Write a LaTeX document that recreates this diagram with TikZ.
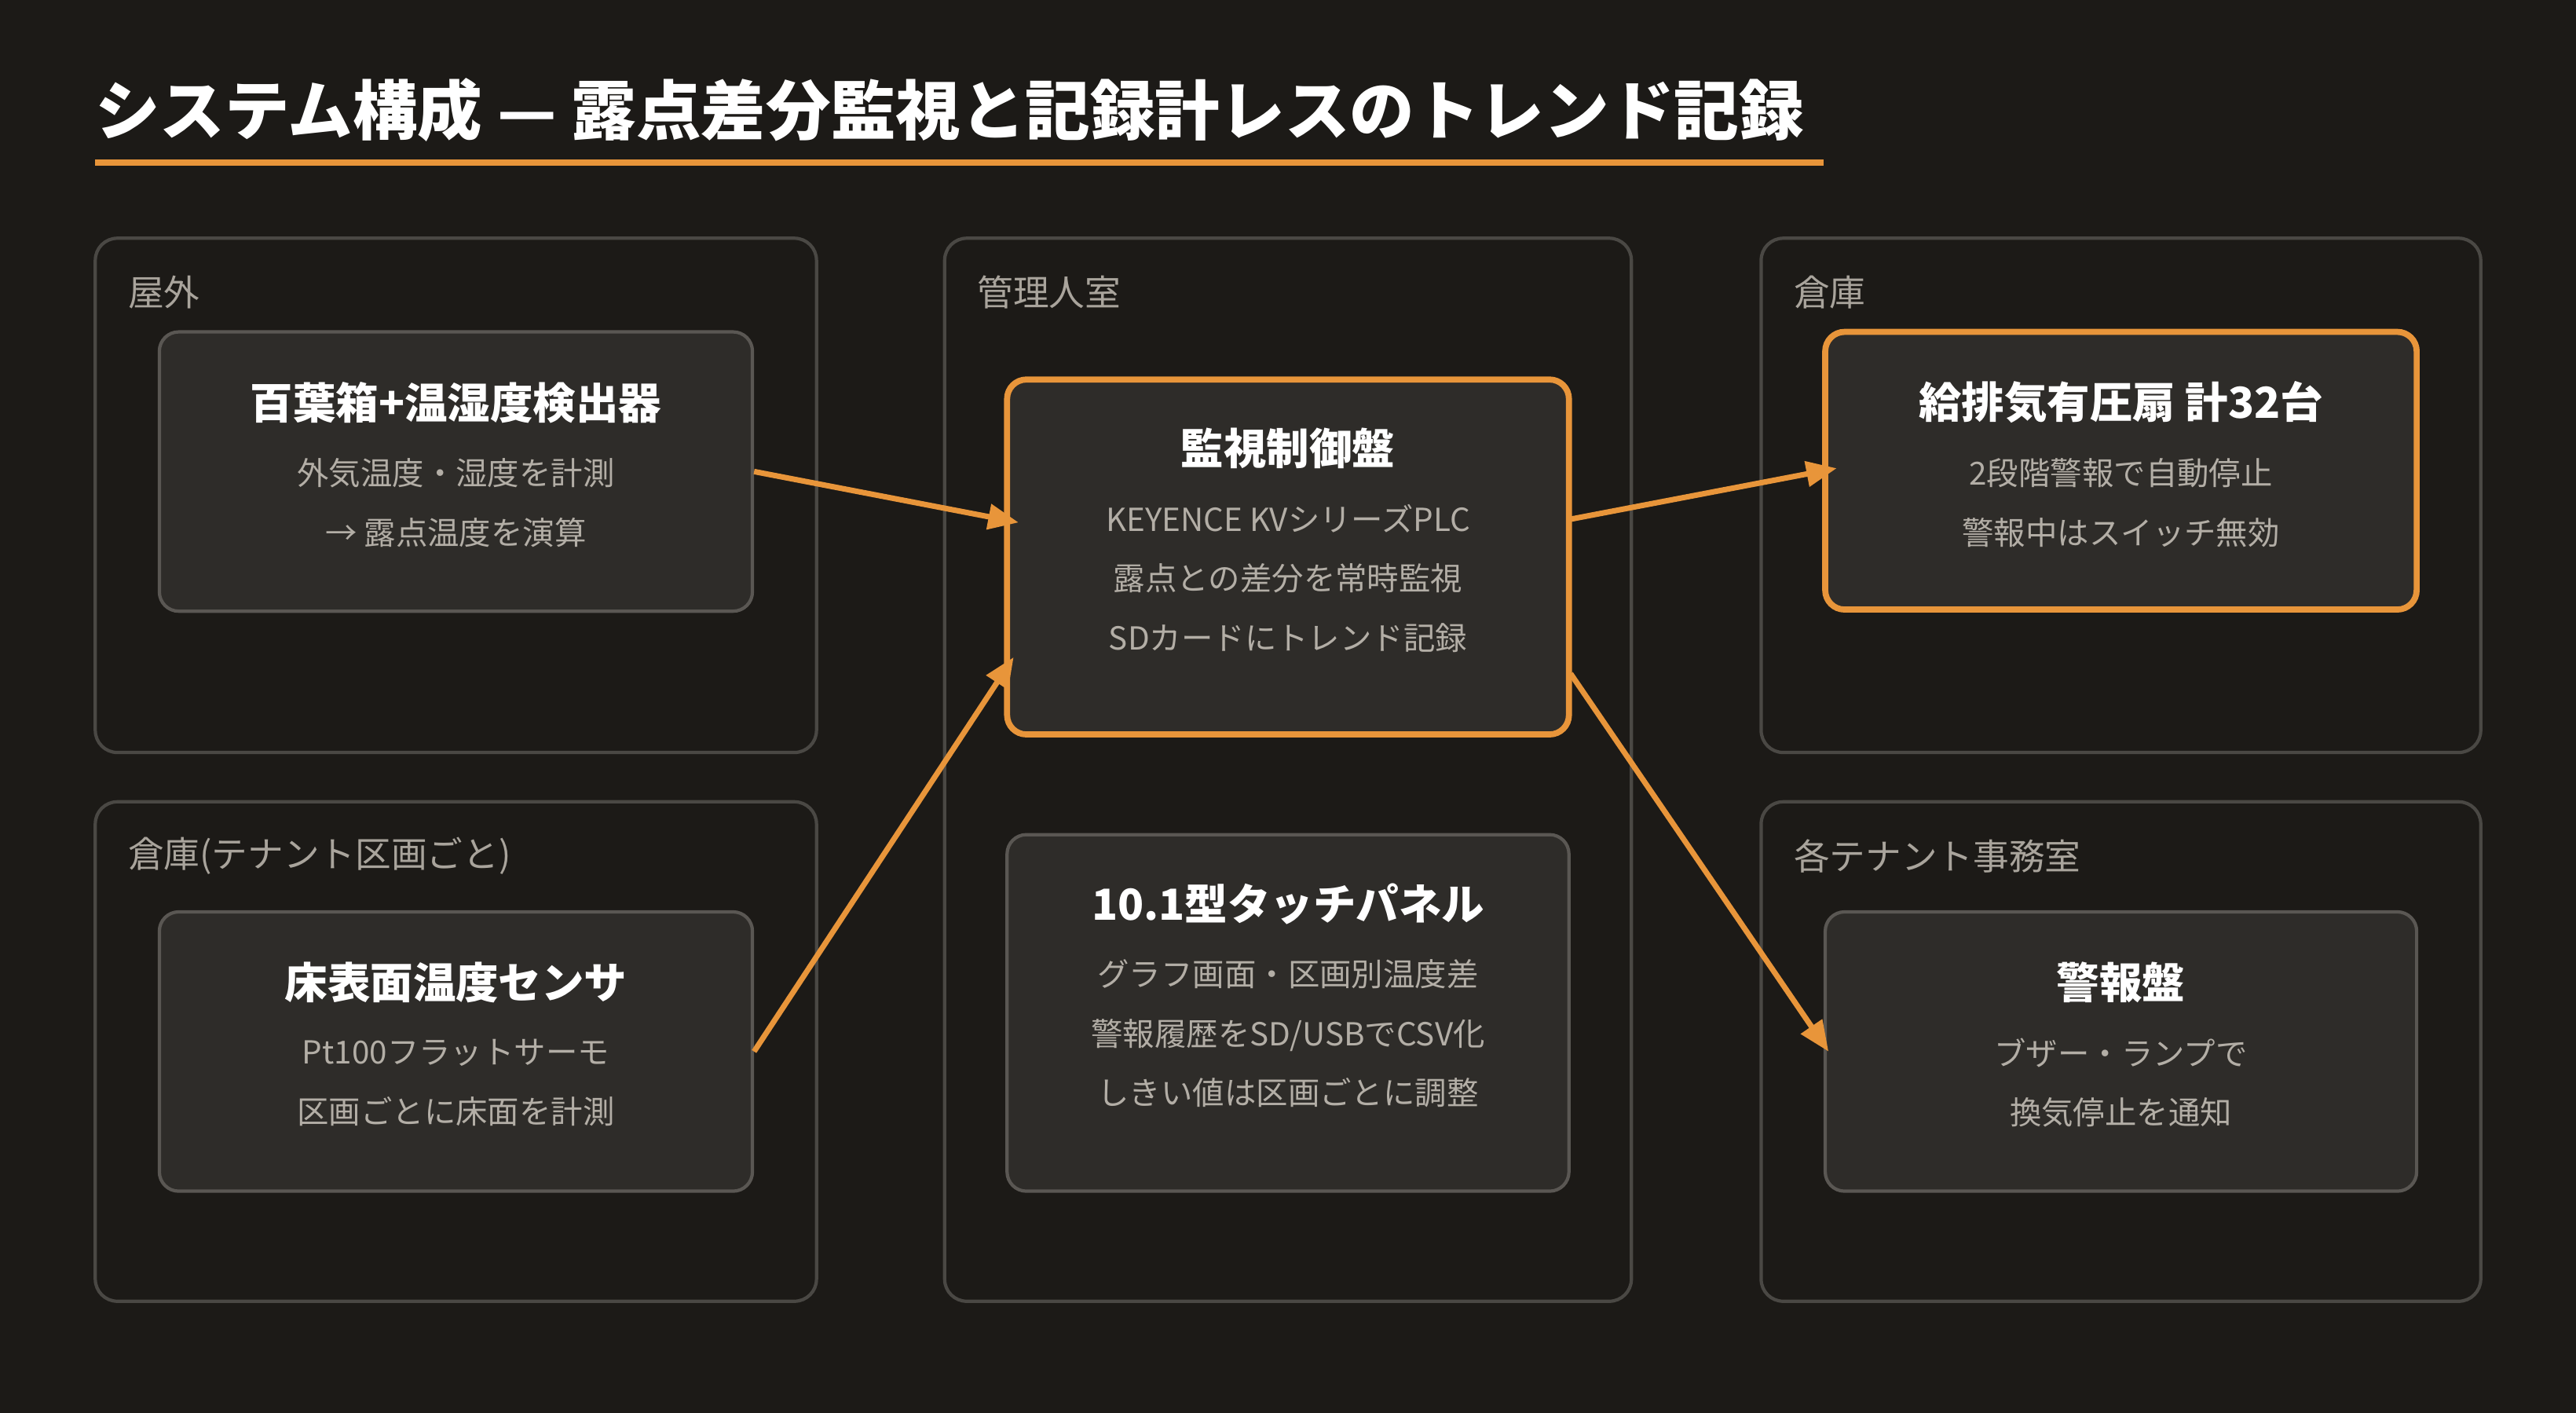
\documentclass[tikz,border=0pt]{standalone}
\usepackage{fontspec}
\setmainfont{Noto Sans CJK JP}
\usetikzlibrary{arrows.meta}
\definecolor{bg}{HTML}{1C1A17}
\definecolor{org}{HTML}{E8953A}
\definecolor{grp}{HTML}{4A4844}
\definecolor{boxf}{HTML}{2E2C29}
\definecolor{boxd}{HTML}{5A5753}
\definecolor{txt}{HTML}{B3AEA6}
\definecolor{lbl}{HTML}{A9A49C}
\begin{document}
\begin{tikzpicture}[x=0.020918cm,y=-0.020918cm,
 grp/.style={draw=grp,line width=1.2pt,rounded corners=8pt},
 box/.style={draw=boxd,fill=boxf,line width=1.2pt,rounded corners=7pt},
 hot/.style={draw=org,fill=boxf,line width=2.2pt,rounded corners=7pt},
 glab/.style={anchor=west,text=lbl,font=\fontsize{13}{15}\selectfont},
 ttl/.style={text=white,font=\bfseries\fontsize{15.5}{18}\selectfont},
 body/.style={text=txt,font=\fontsize{11.5}{21.5}\selectfont,align=center},
 arr/.style={draw=org,line width=2pt,-{Triangle[length=11pt,width=9pt]}}]
\fill[bg] (0,0) rectangle (1568,860);
\node[anchor=west,text=white,font=\bfseries\fontsize{23.5}{28}\selectfont] (title) at (52,67) {システム構成 — 露点差分監視と記録計レスのトレンド記録};
\draw[org,line width=2.4pt] (58,99) -- (1110,99);
% groups
\draw[grp] (58,145) rectangle (497,458);
\draw[grp] (58,488) rectangle (497,792);
\draw[grp] (575,145) rectangle (993,792);
\draw[grp] (1072,145) rectangle (1510,458);
\draw[grp] (1072,488) rectangle (1510,792);
\node[glab] (g1) at (72,178) {屋外};
\node[glab] (g2) at (72,521) {倉庫(テナント区画ごと)};
\node[glab] (g3) at (589,178) {管理人室};
\node[glab] (g4) at (1086,178) {倉庫};
\node[glab] (g5) at (1086,521) {各テナント事務室};
% boxes
\draw[box] (97,202) rectangle (458,372);
\node[ttl] (t1) at (277.5,245) {百葉箱+温湿度検出器};
\node[body] (b1) at (277.5,306) {外気温度・湿度を計測\\→ 露点温度を演算};
\draw[box] (97,555) rectangle (458,725);
\node[ttl] (t2) at (277.5,598) {床表面温度センサ};
\node[body] (b2) at (277.5,659) {Pt100フラットサーモ\\区画ごとに床面を計測};
\draw[hot] (613,231) rectangle (955,447);
\node[ttl] (t3) at (784,273) {監視制御盤};
\node[body] (b3) at (784,352) {KEYENCE KVシリーズPLC\\露点との差分を常時監視\\SDカードにトレンド記録};
\draw[box] (613,508) rectangle (955,725);
\node[ttl] (t4) at (784,550) {10.1型タッチパネル};
\node[body] (b4) at (784,629) {グラフ画面・区画別温度差\\警報履歴をSD/USBでCSV化\\しきい値は区画ごとに調整};
\draw[hot] (1111,202) rectangle (1471,371);
\node[ttl] (t5) at (1291,245) {給排気有圧扇 計32台};
\node[body] (b5) at (1291,306) {2段階警報で自動停止\\警報中はスイッチ無効};
\draw[box] (1111,555) rectangle (1471,725);
\node[ttl] (t6) at (1291,598) {警報盤};
\node[body] (b6) at (1291,659) {ブザー・ランプで\\換気停止を通知};
% arrows
\coordinate (a1) at (459,287); \coordinate (a1e) at (620,318);
\coordinate (a2) at (459,640); \coordinate (a2e) at (617,400);
\coordinate (a3) at (956,316); \coordinate (a3e) at (1118,285);
\coordinate (a4) at (956,410); \coordinate (a4e) at (1113,640);
\draw[arr] (a1) -- (a1e);
\draw[arr] (a2) -- (a2e);
\draw[arr] (a3) -- (a3e);
\draw[arr] (a4) -- (a4e);
\end{tikzpicture}
\end{document}
